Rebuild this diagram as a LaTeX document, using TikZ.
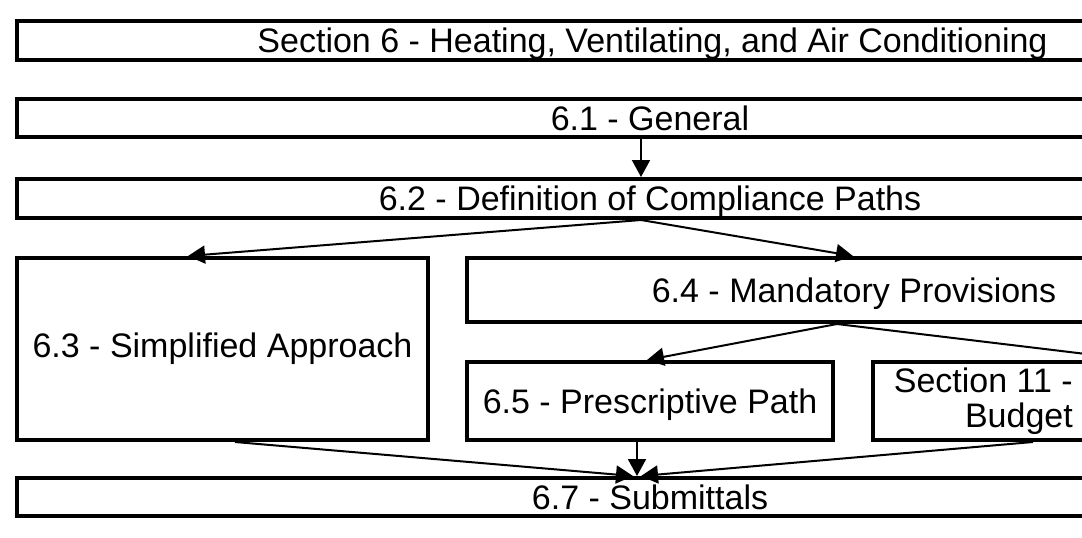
\documentclass[tikz,border=0pt]{standalone}
\usepackage{fontspec}
\setmainfont{Liberation Sans}
\usetikzlibrary{arrows.meta}
\begin{document}
\begin{tikzpicture}[x=1pt,y=-1pt,
  box/.style={draw=black, line width=4pt, inner sep=0pt, fill=white,
    text depth=0pt, font=\fontsize{34}{35}\selectfont},
  arr/.style={line width=2pt, -{Triangle[length=17pt,width=18pt]}}]
\useasboundingbox (0,0) rectangle (1082,538);
\fill[white] (0,0) rectangle (1082,538);
\clip (0,0) rectangle (1082,538);
\node[box, minimum width=1271pt, minimum height=39pt] (n6) at (652.5,40.5) {Section 6 - Heating, Ventilating, and Air Conditioning};
\node[box, minimum width=1266pt, minimum height=38pt] (n61) at (650,118) {6.1 - General};
\node[box, minimum width=1266pt, minimum height=39pt] (n62) at (650,198.5) {6.2 - Definition of Compliance Paths};
\node[box, text depth=7pt, minimum width=411pt, minimum height=182pt] (n63) at (222.5,349) {6.3 - Simplified Approach};
\node[box, minimum width=774pt, minimum height=64pt] (n64) at (854,290) {6.4 - Mandatory Provisions};
\node[box, minimum width=366pt, minimum height=78pt] (n65) at (650,401) {6.5 - Prescriptive Path};
\node[box, minimum width=526pt, minimum height=78pt] (ns11) at (1136,401) {};
\node[anchor=east, align=right, inner sep=0pt, font=\fontsize{34}{35}\selectfont] (s11t) at (1073,401) {Section 11 -\\Budget};
\node[box, minimum width=1266pt, minimum height=38pt] (n67) at (650,497) {6.7 - Submittals};
\draw[arr] ([xshift=-9pt]n61.south) -- ([xshift=-9pt]n62.north);
\draw[arr] ([xshift=-9pt]n62.south) -- ([xshift=-34.5pt]n63.north);
\draw[arr] ([xshift=-9pt]n62.south) -- ([xshift=-1pt]n64.north);
\draw[arr] ([xshift=-17pt]n64.south) -- ([xshift=-3pt]n65.north);
\draw[arr] ([xshift=-17pt]n64.south) -- (ns11.north);
\draw[arr] ([xshift=12.5pt]n63.south) -- ([xshift=-17pt]n67.north);
\draw[arr] ([xshift=-13pt]n65.south) -- ([xshift=-13pt]n67.north);
\draw[arr] ([xshift=-103pt]ns11.south) -- ([xshift=-9pt]n67.north);
\end{tikzpicture}
\end{document}
